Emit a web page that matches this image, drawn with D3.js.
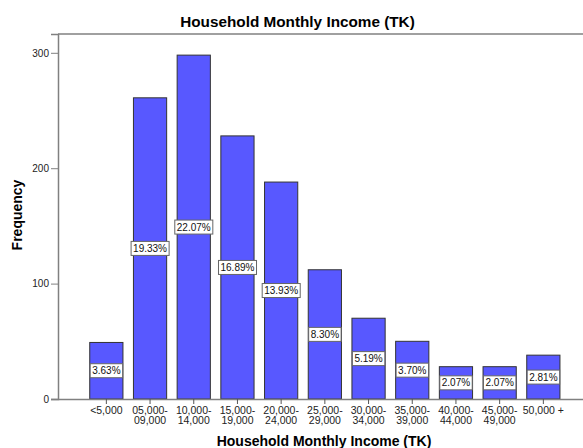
<!DOCTYPE html>
<html>
<head>
<meta charset="utf-8">
<script src="https://cdn.jsdelivr.net/npm/d3@7"></script>
<style>
  body { margin: 0; background: #fff; }
  svg { display: block; font-family: 'Liberation Sans', Arial, sans-serif; }
</style>
</head>
<body>
<div id="chart"></div>
<script>
'use strict'

// income groups (two-line tick labels)
const categories = [
  ['<5,000'], ['05,000-', '09,000'], ['10,000-', '14,000'], ['15,000-', '19,000'],
  ['20,000-', '24,000'], ['25,000-', '29,000'], ['30,000-', '34,000'], ['35,000-', '39,000'],
  ['40,000-', '44,000'], ['45,000-', '49,000'], ['50,000 +']
]
const frequencies = [49, 261, 298, 228, 188, 112, 70, 50, 28, 28, 38]
const percentLabels = ['3.63%', '19.33%', '22.07%', '16.89%', '13.93%', '8.30%', '5.19%', '3.70%', '2.07%', '2.07%', '2.81%']
const yTicks = [0, 100, 200, 300]

const width = 583
const height = 448
const margin = { top: 34, bottom: 49, left: 58, right: 0 }

const svg = d3.select('#chart')
  .append('svg')
  .attr('width', width)
  .attr('height', height)

const keys = categories.map(c => c.join(' '))

const xScale = d3.scaleBand()
  .domain(keys)
  .range([84.5, 565.2])
  .paddingInner(0.24)
  .paddingOuter(0.12)

const yScale = d3.scaleLinear()
  .domain([0, 316.3])
  .range([height - margin.bottom, margin.top])

// title
svg.append('text')
  .attr('x', 297.5)
  .attr('y', 27)
  .attr('text-anchor', 'middle')
  .style('font-size', '15.3px')
  .style('font-weight', 'bold')
  .text('Household Monthly Income (TK)')

// frame top line
svg.append('line')
  .attr('x1', margin.left)
  .attr('x2', width)
  .attr('y1', margin.top)
  .attr('y2', margin.top)
  .attr('stroke', '#808080')
  .attr('stroke-width', 1.5)

// bars
svg.selectAll('rect.bar')
  .data(frequencies)
  .enter()
  .append('rect')
  .attr('class', 'bar')
  .attr('x', (d, i) => xScale(keys[i]))
  .attr('y', d => yScale(d))
  .attr('width', xScale.bandwidth())
  .attr('height', d => yScale(0) - yScale(d))
  .attr('fill', 'rgb(88, 88, 255)')
  .attr('stroke', '#333')
  .attr('stroke-width', 1)

// y axis
const yAxis = svg.append('g')
  .attr('transform', `translate(${margin.left}, 0)`)
  .call(d3.axisLeft(yScale).tickValues(yTicks).tickSize(7).tickPadding(2))
yAxis.select('.domain').attr('stroke', '#808080').attr('stroke-width', 1.5)
yAxis.selectAll('.tick line').attr('stroke', '#808080')
yAxis.selectAll('.tick text')
  .style('font-size', '10px')
  .style('font-family', "'Liberation Sans', Arial, sans-serif")
  .attr('fill', '#222')

// x axis
const xAxis = svg.append('g')
  .attr('transform', `translate(0, ${yScale(0)})`)
  .call(d3.axisBottom(xScale).tickSize(5).tickSizeOuter(0))
xAxis.select('.domain')
  .attr('d', `M${margin.left - 7},0.5H${width}`)
  .attr('stroke', '#808080')
  .attr('stroke-width', 1.5)
xAxis.selectAll('.tick line').attr('stroke', '#555')
xAxis.selectAll('.tick text').remove()
xAxis.selectAll('.tick')
  .append('text')
  .attr('fill', '#222')
  .attr('text-anchor', 'middle')
  .style('font-size', '10.5px')
  .style('font-family', "'Liberation Sans', Arial, sans-serif")
  .selectAll('tspan')
  .data((d, i) => categories[i])
  .enter()
  .append('tspan')
  .attr('x', 0)
  .attr('y', (d, i) => 15 + i * 10)
  .text(d => d)

// percentage labels
const labels = svg.selectAll('g.pct')
  .data(frequencies)
  .enter()
  .append('g')
  .attr('class', 'pct')
  .attr('transform', (d, i) => `translate(${xScale(keys[i]) + xScale.bandwidth() / 2}, ${(yScale(d) + yScale(0)) / 2})`)

labels.append('text')
  .attr('text-anchor', 'middle')
  .attr('dy', '0.35em')
  .style('font-size', '10px')
  .attr('fill', '#111')
  .text((d, i) => percentLabels[i])

labels.each(function () {
  const g = d3.select(this)
  const bb = g.select('text').node().getBBox()
  g.insert('rect', 'text')
    .attr('x', bb.x - 2)
    .attr('y', -7)
    .attr('width', bb.width + 4)
    .attr('height', 14)
    .attr('fill', '#fff')
    .attr('stroke', '#666')
    .attr('stroke-width', 1)
})

// axis titles
svg.append('text')
  .attr('x', 324)
  .attr('y', 446)
  .attr('text-anchor', 'middle')
  .style('font-size', '14px')
  .style('font-weight', 'bold')
  .text('Household Monthly Income (TK)')

svg.append('text')
  .attr('transform', 'translate(22, 215) rotate(-90)')
  .attr('text-anchor', 'middle')
  .style('font-size', '14px')
  .style('font-weight', 'bold')
  .text('Frequency')
</script>
</body>
</html>
